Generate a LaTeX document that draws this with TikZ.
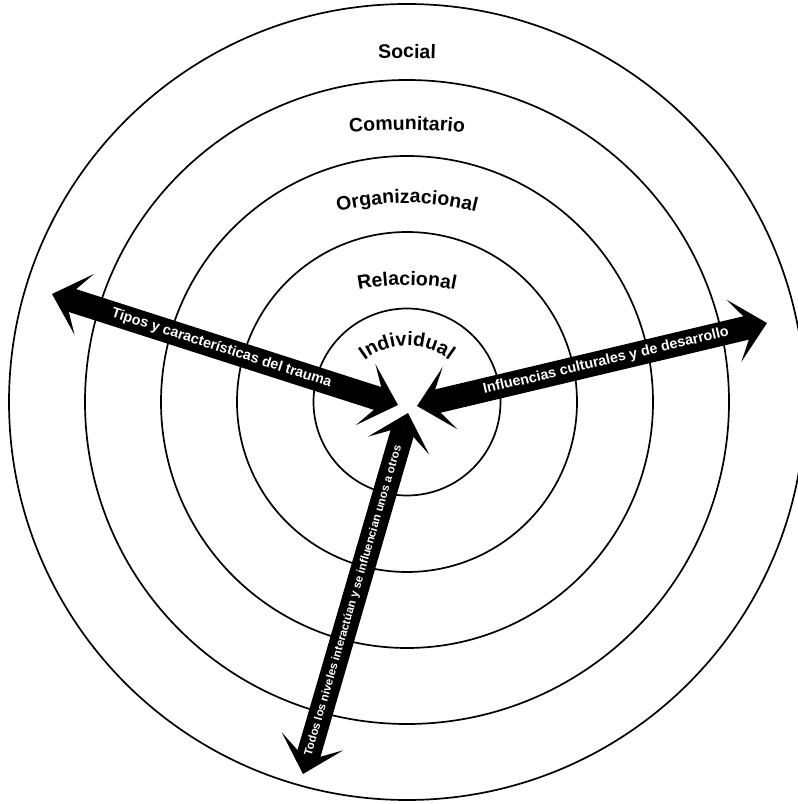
\documentclass[tikz,border=0pt]{standalone}
\usepackage{fontspec}
\setmainfont{Liberation Sans}
\usetikzlibrary{arrows.meta,decorations.text}

\begin{document}
\begin{tikzpicture}[
  x=1pt, y=1pt,
  ring/.style={draw, line width=1.7pt},
  ringtext/.style={decorate, decoration={text along path, text align=center,
    text={|\fontsize{19.5}{19.5}\selectfont\bfseries|#1}}},
  bigtip/.tip={Stealth[length=34pt, width=64pt, inset=20pt, line width=0pt]},
  bigarr/.style={line width=24pt, bigtip-bigtip},
  armtext/.style={text=white, font=\bfseries\fontsize{14.3}{14.3}\selectfont,
    sloped, inner sep=0pt},
  smalltext/.style={armtext, font=\bfseries\fontsize{11.5}{11.5}\selectfont}
]
\path[use as bounding box, fill=white] (0,0) rectangle (798,804);

\coordinate (hub) at (407,402);

% levels
\foreach \r in {93.5,170,246,322,398}
  \draw[ring] (hub) circle[radius=\r];

% level names
\path[ringtext=Social] (407,-54) ++(95:800) arc[start angle=95, end angle=85, radius=800];
\path[ringtext=Comunitario] (407,74) ++(100:600) arc[start angle=100, end angle=80, radius=600];
\path[ringtext=Organizacional] (407,321) ++(120:280) arc[start angle=120, end angle=60, radius=280];
\path[ringtext=Relacional] (407,274) ++(120:245) arc[start angle=120, end angle=60, radius=245];
\path[ringtext=Individual] (407,388) ++(170:70) arc[start angle=170, end angle=10, radius=70];

% arrow ends
\coordinate (trauma) at (52,510);
\coordinate (traumaIn) at (398,399);
\coordinate (cultura) at (767,481);
\coordinate (culturaIn) at (417,398);
\coordinate (niveles) at (303,30);
\coordinate (nivelesIn) at (408,391);

\draw[bigarr] (trauma) -- node[armtext, pos=0.49] {Tipos y características del trauma} (traumaIn);
\draw[bigarr] (culturaIn) -- node[armtext, pos=0.54] {Influencias culturales y de desarrollo} (cultura);
\draw[bigarr] (niveles) -- node[smalltext, pos=0.48] {Todos los niveles interactúan y se influencian unos a otros} (nivelesIn);
\end{tikzpicture}
\end{document}
